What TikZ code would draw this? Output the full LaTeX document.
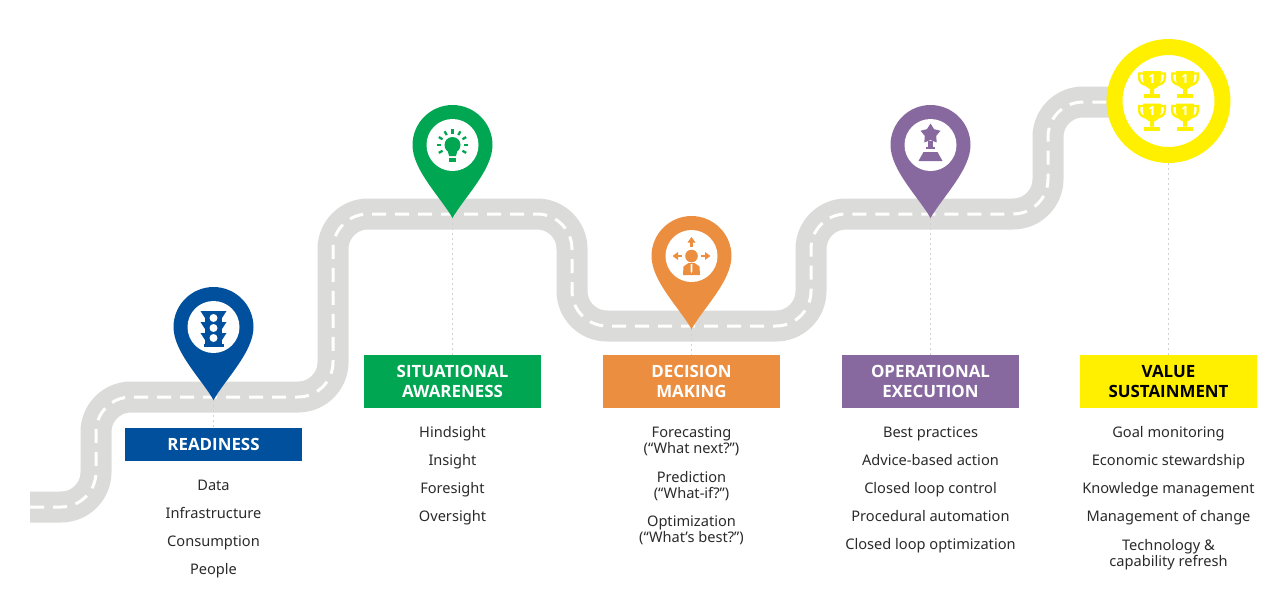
\documentclass[tikz,border=0pt]{standalone}
\usepackage{fontspec}
\setmainfont{Noto Sans}
\newfontfamily\headfont{Open Sans}
\usetikzlibrary{shapes.geometric}
\definecolor{cblue}{HTML}{00509D}
\definecolor{cgreen}{HTML}{00A651}
\definecolor{corange}{HTML}{EC8E3F}
\definecolor{cpurple}{HTML}{8769A0}
\definecolor{cyellow}{HTML}{FFF000}
\definecolor{croad}{HTML}{DBDBD9}
\definecolor{ctext}{HTML}{2A2A2A}
\newcommand{\hl}[1]{\raisebox{-1pt}{#1}}
\tikzset{
  roadbed/.style={draw=croad,line width=31pt,rounded corners=35pt},
  roadline/.style={draw=white,line width=3pt,rounded corners=35pt,dash pattern=on 14pt off 9pt},
  leader/.style={draw=black!18,line width=1.2pt,dash pattern=on 2pt off 3pt},
  bar/.style={minimum width=177pt,inner sep=0pt,align=center,font=\headfont\fontsize{16.9}{20}\selectfont\bfseries,text=white},
  item/.style={anchor=base,font=\fontsize{14.6}{17}\selectfont,text=ctext,inner sep=0pt},
}
\newcommand{\pinshape}[3]{% x, y, colour
  \fill[#3] (#1,#2+73) .. controls (#1+12,#2+52) and (#1+40,#2+25) .. (#1+40,#2)
    .. controls (#1+40,#2-22) and (#1+22,#2-40) .. (#1,#2-40)
    .. controls (#1-22,#2-40) and (#1-40,#2-22) .. (#1-40,#2)
    .. controls (#1-40,#2+25) and (#1-12,#2+52) .. (#1,#2+73) -- cycle;
  \fill[white] (#1,#2) circle (26);
}
\newcommand{\cupicon}[3]{% x, y, name
  \begin{scope}[shift={(#1,#2)}]
    \draw[cyellow,line width=2.4pt] (-9,-10.5) -- (-12.8,-10.5) -- (-12.8,-6) .. controls (-12.8,-2) and (-10,0) .. (-6,1);
    \draw[cyellow,line width=2.4pt] (9,-10.5) -- (12.8,-10.5) -- (12.8,-6) .. controls (12.8,-2) and (10,0) .. (6,1);
    \fill[cyellow] (-9,-13) -- (9,-13) -- (9,-5) .. controls (9,1) and (5,4) .. (2,5) -- (2,10) -- (-2,10) -- (-2,5) .. controls (-5,4) and (-9,1) .. (-9,-5) -- cycle;
    \fill[cyellow] (-8,10) rectangle (8,14);
    \node[inner sep=0pt,text=white,font=\headfont\fontsize{12.5}{12.5}\selectfont\bfseries] (#3) at (0,-5) {1};
  \end{scope}
}
\begin{document}
\begin{tikzpicture}[x=1pt,y=-1pt]
\useasboundingbox (0,0) rectangle (1267,592);
% road
\coordinate (rs) at (30,507);
\coordinate (re) at (1168,102);
\path[roadbed] (rs) -- (96,507) -- (96,397) -- (333,397) -- (333,214) -- (572,214) -- (572,326) -- (811,326) -- (811,214) -- (1048,214) -- (1048,102) -- (re);
\path[roadline] (rs) -- (96,507) -- (96,397) -- (333,397) -- (333,214) -- (572,214) -- (572,326) -- (811,326) -- (811,214) -- (1048,214) -- (1048,102) -- (re);
% bars
\node[bar,fill=cblue,minimum height=33pt] (b1) at (213.5,444.5) {\hl{READINESS}};
\node[bar,fill=cgreen,minimum height=53pt] (b2) at (452.5,381.5) {\hl{SITUATIONAL}\\\hl{AWARENESS}};
\node[bar,fill=corange,minimum height=53pt] (b3) at (691.5,381.5) {\hl{DECISION}\\\hl{MAKING}};
\node[bar,fill=cpurple,minimum height=53pt] (b4) at (930.5,381.5) {\hl{OPERATIONAL}\\\hl{EXECUTION}};
\node[bar,fill=cyellow,text=black,minimum height=53pt] (b5) at (1168.5,381.5) {\hl{VALUE}\\\hl{SUSTAINMENT}};
% leaders
\coordinate (t1) at (213.5,400);
\coordinate (t2) at (452.5,218);
\coordinate (t3) at (691.5,329);
\coordinate (t4) at (930.5,218);
\coordinate (t5) at (1168.5,163);
\draw[leader] (t1) -- (b1.north);
\draw[leader] (t2) -- (b2.north);
\draw[leader] (t3) -- (b3.north);
\draw[leader] (t4) -- (b4.north);
\draw[leader] (t5) -- (b5.north);
% pins
\pinshape{213.5}{327}{cblue}
\pinshape{452.5}{145}{cgreen}
\pinshape{691.5}{256}{corange}
\pinshape{930.5}{145}{cpurple}
% traffic light
\begin{scope}[shift={(213.5,327)}]
  \fill[cblue] (-8.5,-16) rectangle (8.5,19);
  \foreach \yy in {-16,-5,6}{
    \fill[cblue] (-13,\yy) -- (13,\yy) -- (8.5,\yy+7) -- (-8.5,\yy+7) -- cycle;
  }
  \fill[cblue] (-10,17) rectangle (10,20);
  \foreach \yy in {-9,1,11}{ \fill[white] (0,\yy) circle (4); }
\end{scope}
% bulb
\begin{scope}[shift={(452.5,145)}]
  \fill[cgreen] (0,0) circle (8);
  \fill[cgreen] (-5,5) -- (5,5) -- (3.5,11) -- (-3.5,11) -- cycle;
  \fill[cgreen] (-3.5,12.5) rectangle (3.5,16.5);
  \foreach \a in {-150,-120,-90,-60,-30,0,30,180,150}{
    \draw[cgreen,line width=2.3pt] (\a:11.5) -- (\a:15.8);
  }
\end{scope}
% person with arrows
\begin{scope}[shift={(691.5,256)}]
  \fill[corange] (0,0) circle (6.3);
  \fill[corange] (-3,7) -- (3,7) -- (8,10.5) -- (8.5,19) -- (-8.5,19) -- (-8,10.5) -- cycle;
  \fill[white] (-1,8) -- (1,8) -- (0.9,15) -- (0,17) -- (-0.9,15) -- cycle;
  \draw[corange,line width=2.2pt] (0,-9) -- (0,-14);
  \fill[corange] (0,-19) -- (4,-13.5) -- (-4,-13.5) -- cycle;
  \draw[corange,line width=2.2pt] (-9.5,0) -- (-14,0);
  \fill[corange] (-19,0) -- (-13.5,-4) -- (-13.5,4) -- cycle;
  \draw[corange,line width=2.2pt] (9.5,0) -- (14,0);
  \fill[corange] (19,0) -- (13.5,-4) -- (13.5,4) -- cycle;
\end{scope}
% star trophy
\begin{scope}[shift={(930.5,145)}]
  \node[star,star points=5,star point ratio=1.75,fill=cpurple,minimum size=21pt,inner sep=0pt] (st) at (0,-11) {};
  \fill[cpurple] (-2.2,-4) rectangle (2.2,3);
  \fill[cpurple] (-4.5,1.5) rectangle (4.5,3.5);
  \fill[cpurple] (-7,7) -- (7,7) -- (12,16) -- (-12,16) -- cycle;
\end{scope}
% goal ring
\node[circle,draw=cyellow,line width=16pt,fill=white,minimum size=108pt,inner sep=0pt] (goal) at (1168.5,101) {};
\cupicon{1152}{84}{c1}
\cupicon{1185}{84}{c2}
\cupicon{1152}{116.5}{c3}
\cupicon{1185}{116.5}{c4}
% lists
\node[item] (a1) at (213.5,490) {Data};
\node[item] (a2) at (213.5,518) {Infrastructure};
\node[item] (a3) at (213.5,546) {Consumption};
\node[item] (a4) at (213.5,574) {People};
\node[item] (s1) at (452.5,437) {Hindsight};
\node[item] (s2) at (452.5,465) {Insight};
\node[item] (s3) at (452.5,493) {Foresight};
\node[item] (s4) at (452.5,521) {Oversight};
\node[item] (d1) at (691.5,437) {Forecasting};
\node[item] (d2) at (691.5,453) {(“What next?”)};
\node[item] (d3) at (691.5,482) {Prediction};
\node[item] (d4) at (691.5,498) {(“What-if?”)};
\node[item] (d5) at (691.5,526) {Optimization};
\node[item] (d6) at (691.5,542) {(“What’s best?”)};
\node[item] (o1) at (930.5,437) {Best practices};
\node[item] (o2) at (930.5,465) {Advice-based action};
\node[item] (o3) at (930.5,493) {Closed loop control};
\node[item] (o4) at (930.5,521) {Procedural automation};
\node[item] (o5) at (930.5,549) {Closed loop optimization};
\node[item] (v1) at (1168.5,437) {Goal monitoring};
\node[item] (v2) at (1168.5,465) {Economic stewardship};
\node[item] (v3) at (1168.5,493) {Knowledge management};
\node[item] (v4) at (1168.5,521) {Management of change};
\node[item] (v5) at (1168.5,550) {Technology \&};
\node[item] (v6) at (1168.5,566) {capability refresh};
\end{tikzpicture}
\end{document}
